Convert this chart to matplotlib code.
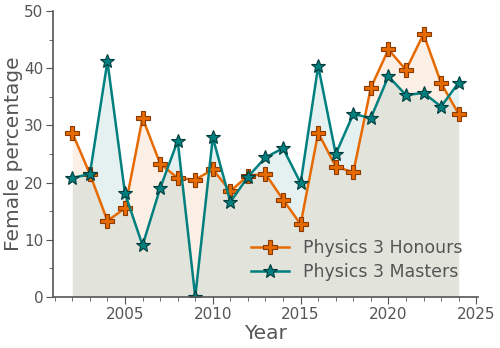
import numpy as np
import matplotlib.pyplot as plt
from matplotlib.ticker import MultipleLocator

years = list(range(2002, 2025))
honours = [28.7, 21.5, 13.3, 15.5, 31.3, 23.3, 20.8, 20.5, 22.3, 18.5, 21.2, 21.5,
           17.0, 12.7, 28.7, 22.8, 21.8, 36.6, 43.3, 39.7, 46.0, 37.4, 32.0]
masters = [20.8, 21.5, 41.2, 18.1, 9.0, 19.0, 27.3, 0.0, 27.9, 16.6, 21.0, 24.4,
           26.0, 19.9, 40.4, 25.0, 32.0, 31.3, 38.6, 35.3, 35.7, 33.3, 37.5]

orange = '#e66a00'
teal = '#007f7f'
grey = '#555555'

plt.rcParams['font.family'] = 'DejaVu Sans'
fig, ax = plt.subplots(figsize=(5, 3.48), dpi=100)

# filled areas under each series
ax.fill_between(years, honours, color=orange, alpha=0.1, lw=0)
ax.fill_between(years, masters, color=teal, alpha=0.1, lw=0)

ax.plot(years, honours, color=orange, lw=1.8, marker='P', ms=10,
        mec='#8a3a00', mew=0.8, label='Physics 3 Honours')
ax.plot(years, masters, color=teal, lw=1.8, marker='*', ms=10,
        mec='#003c3c', mew=0.8, label='Physics 3 Masters')

ax.set_ylim(0, 50)
ax.set_xlim(2000.9, 2025.1)
ax.xaxis.set_major_locator(MultipleLocator(5))
ax.xaxis.set_minor_locator(MultipleLocator(1))
ax.yaxis.set_major_locator(MultipleLocator(10))
ax.yaxis.set_minor_locator(MultipleLocator(5))

for s in ['top', 'right']:
    ax.spines[s].set_visible(False)
for s in ['left', 'bottom']:
    ax.spines[s].set_color(grey)
    ax.spines[s].set_linewidth(1.2)
ax.tick_params(which='both', colors=grey, labelsize=11)
ax.tick_params(which='major', length=5, pad=2)
ax.tick_params(which='minor', length=3)

ax.set_xlabel('Year', fontsize=14.5, color=grey, labelpad=2)
ax.set_ylabel('Female percentage', fontsize=14.5, color=grey, labelpad=1)

leg = ax.legend(loc='lower right', frameon=False, fontsize=12.5,
                bbox_to_anchor=(1.0, 0.0), handlelength=2.2,
                labelspacing=0.35)
for t in leg.get_texts():
    t.set_color(grey)

fig.subplots_adjust(left=0.106, right=0.956, top=0.968, bottom=0.147)
fig.savefig('out.png', dpi=100)
